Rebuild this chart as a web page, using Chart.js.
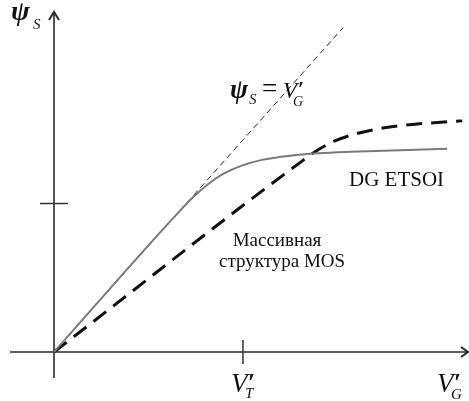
<!DOCTYPE html>
<html>
<head>
<meta charset="utf-8">
<script src="https://cdn.jsdelivr.net/npm/chart.js"></script>
<style>
  html, body { margin: 0; padding: 0; background: #fff; }
  canvas { display: block; }
</style>
</head>
<body>
<canvas id="psi-chart" width="469" height="401"></canvas>
<script>
// surface potential vs gate voltage: DG ETSOI vs bulk MOS
const etsoiV   = [0, 0.66, 0.74, 0.82, 0.90, 0.99, 1.10, 1.25, 1.40, 1.57, 1.83, 2.08];
const etsoiPsi = [0, 0.66, 0.733, 0.795, 0.842, 0.878, 0.906, 0.926, 0.937, 0.944, 0.952, 0.958];

const bulkV   = [0, 1.30, 1.40, 1.48, 1.57, 1.74, 1.92, 2.16];
const bulkPsi = [0, 0.892, 0.955, 0.993, 1.022, 1.056, 1.075, 1.090];

const idealV   = [0, 1.53];
const idealPsi = [0, 1.53];

const vtTick = 1;      // V'_T on the x axis
const psiTick = 0.7;   // marked level on the psi axis

const X_MIN = -0.2857, X_MAX = 2.196;
const Y_MIN = -0.231, Y_MAX = 1.660;

const pts = (xs, ys) => xs.map((x, i) => ({ x, y: ys[i] }));

const SERIF = "'Liberation Serif', 'DejaVu Serif', serif";

// draws a row of text runs, each with its own font and offset
function drawRuns(ctx, x, y, runs) {
  runs.forEach(r => {
    ctx.font = r.font;
    ctx.fillText(r.t, x + (r.dx || 0), y + (r.dy || 0));
  });
}

const axesPlugin = {
  id: 'axes',
  beforeDatasetsDraw(chart) {
    const ctx = chart.ctx;
    const xs = chart.scales.x, ys = chart.scales.y;
    const x0 = xs.getPixelForValue(0), y0 = ys.getPixelForValue(0);
    ctx.save();
    ctx.strokeStyle = '#2a2a2a';
    ctx.lineWidth = 1.6;
    ctx.beginPath();
    // x axis
    ctx.moveTo(10, y0); ctx.lineTo(468, y0);
    // y axis
    ctx.moveTo(x0, 378); ctx.lineTo(x0, 13);
    ctx.stroke();

    // arrow heads
    ctx.lineWidth = 2;
    ctx.beginPath();
    ctx.moveTo(x0 - 5, 20); ctx.lineTo(x0, 12); ctx.lineTo(x0 + 5, 20);
    ctx.moveTo(461, y0 - 5); ctx.lineTo(468, y0); ctx.lineTo(461, y0 + 5);
    ctx.stroke();

    // ticks
    ctx.lineWidth = 1.5;
    ctx.strokeStyle = '#333';
    const tx = xs.getPixelForValue(vtTick);
    const ty = ys.getPixelForValue(psiTick);
    ctx.beginPath();
    ctx.moveTo(tx, y0 - 12); ctx.lineTo(tx, y0 + 12);
    ctx.moveTo(x0 - 14, ty); ctx.lineTo(x0 + 14, ty);
    ctx.stroke();
    ctx.restore();
  },
  afterDraw(chart) {
    const ctx = chart.ctx;
    const xs = chart.scales.x;
    ctx.save();
    ctx.fillStyle = '#111';
    ctx.textBaseline = 'alphabetic';
    ctx.textAlign = 'left';

    // axis titles
    drawRuns(ctx, 11, 20, [
      { t: 'ψ', font: `bold italic 28px ${SERIF}` },
      { t: 'S', font: `italic 15px ${SERIF}`, dx: 22, dy: 9 }
    ]);

    const tx = xs.getPixelForValue(vtTick);
    drawRuns(ctx, tx - 12, 392, [
      { t: 'V', font: `italic 27px ${SERIF}` },
      { t: '′', font: `bold 26px ${SERIF}`, dx: 17, dy: -1 },
      { t: 'T', font: `italic 15px ${SERIF}`, dx: 14, dy: 6 }
    ]);
    drawRuns(ctx, 437, 392, [
      { t: 'V', font: `italic 27px ${SERIF}` },
      { t: '′', font: `bold 26px ${SERIF}`, dx: 17, dy: -1 },
      { t: 'G', font: `italic 15px ${SERIF}`, dx: 14, dy: 7 }
    ]);

    // ideal line label
    drawRuns(ctx, 230, 98, [
      { t: 'ψ', font: `bold italic 27px ${SERIF}` },
      { t: 'S', font: `italic 15px ${SERIF}`, dx: 19, dy: 6 },
      { t: '=', font: `27px ${SERIF}`, dx: 32, dy: -1 },
      { t: 'V', font: `italic 23px ${SERIF}`, dx: 53 },
      { t: '′', font: `bold 22px ${SERIF}`, dx: 68, dy: -2 },
      { t: 'G', font: `italic 14px ${SERIF}`, dx: 63, dy: 8 }
    ]);

    // curve names
    ctx.font = `21px ${SERIF}`;
    ctx.fillText('DG ETSOI', 349, 186);
    ctx.font = `19px ${SERIF}`;
    ctx.textAlign = 'center';
    ctx.fillText('Массивная', 277, 246);
    ctx.fillText('структура MOS', 282, 267);
    ctx.restore();
  }
};

new Chart(document.getElementById('psi-chart').getContext('2d'), {
  type: 'scatter',
  data: {
    datasets: [
      {
        label: 'DG ETSOI',
        data: pts(etsoiV, etsoiPsi),
        showLine: true,
        borderColor: '#7a7a7a',
        borderWidth: 2,
        pointRadius: 0,
        cubicInterpolationMode: 'monotone',
        order: 1
      },
      {
        label: 'Массивная структура MOS',
        data: pts(bulkV, bulkPsi),
        showLine: true,
        borderColor: '#111',
        borderWidth: 3,
        borderDash: [16, 9],
        pointRadius: 0,
        cubicInterpolationMode: 'monotone',
        order: 2
      },
      {
        label: 'ψS = V′G',
        data: pts(idealV, idealPsi),
        showLine: true,
        borderColor: '#222',
        borderWidth: 1,
        borderDash: [6, 4],
        pointRadius: 0,
        order: 3
      }
    ]
  },
  options: {
    responsive: false,
    animation: false,
    layout: { padding: 0 },
    plugins: { legend: { display: false }, tooltip: { enabled: false } },
    scales: {
      x: { type: 'linear', min: X_MIN, max: X_MAX, display: false },
      y: { type: 'linear', min: Y_MIN, max: Y_MAX, display: false }
    }
  },
  plugins: [axesPlugin]
});
</script>
</body>
</html>
